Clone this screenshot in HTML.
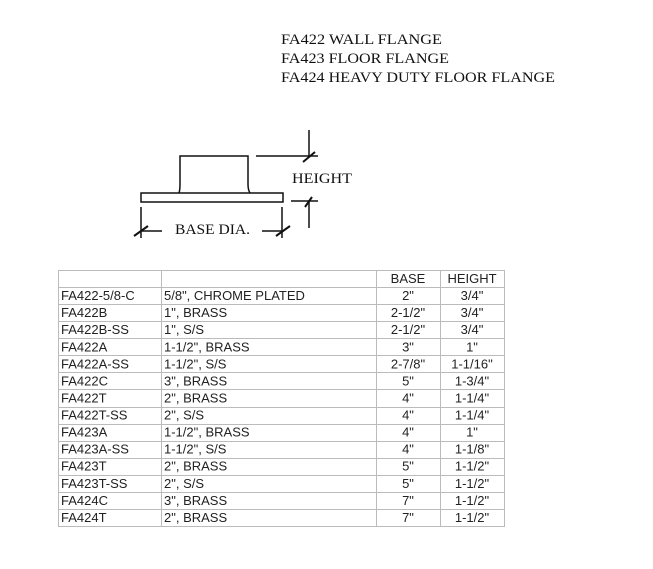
<!DOCTYPE html>
<html><head><style>body{margin:0;background:#fff}svg{display:block}</style></head>
<body>
<svg width="653" height="569" xmlns="http://www.w3.org/2000/svg">
<rect width="653" height="569" fill="#fff"/>
<g font-family="Liberation Serif, serif" font-size="15" fill="#111">
<text x="281" y="44" textLength="161" lengthAdjust="spacingAndGlyphs">FA422 WALL FLANGE</text>
<text x="281" y="63" textLength="168" lengthAdjust="spacingAndGlyphs">FA423 FLOOR FLANGE</text>
<text x="281" y="82" textLength="274" lengthAdjust="spacingAndGlyphs">FA424 HEAVY DUTY FLOOR FLANGE</text>
<text x="292" y="183" textLength="60" lengthAdjust="spacingAndGlyphs">HEIGHT</text>
<text x="175" y="234" textLength="75" lengthAdjust="spacingAndGlyphs">BASE DIA.</text>
</g>
<g stroke="#111" stroke-width="1.5" fill="none">
<path d="M179 193 Q180 190 180 184 L180 156 L248 156 L248 184 Q248 190 250 193"/>
<rect x="141" y="193" width="142" height="9"/>
<line x1="256" y1="156" x2="318" y2="156"/>
<line x1="309" y1="130" x2="309" y2="157"/>
<line x1="303" y1="162" x2="315" y2="152" stroke-width="2"/>
<line x1="291" y1="201" x2="318" y2="201"/>
<line x1="309" y1="200" x2="309" y2="228"/>
<line x1="305" y1="207" x2="312" y2="197" stroke-width="2"/>
<line x1="141" y1="207" x2="141" y2="238"/>
<line x1="282" y1="207" x2="282" y2="238"/>
<line x1="141" y1="231" x2="162" y2="231"/>
<line x1="262" y1="231" x2="282" y2="231"/>
<line x1="134" y1="236" x2="148" y2="226" stroke-width="2"/>
<line x1="276" y1="236" x2="290" y2="226" stroke-width="2"/>
</g>
<g stroke="#bbb" stroke-width="1">
<line x1="58.5" y1="270" x2="58.5" y2="526"/>
<line x1="161.5" y1="270" x2="161.5" y2="526"/>
<line x1="376.5" y1="270" x2="376.5" y2="526"/>
<line x1="440.5" y1="270" x2="440.5" y2="526"/>
<line x1="504.5" y1="270" x2="504.5" y2="526"/>
</g>
<g id="rows" stroke="#bbb" stroke-width="1"></g>
<g font-family="Liberation Sans, sans-serif" font-size="13" fill="#222" id="txt"></g>
<script>
var rows=[["","","BASE","HEIGHT"],["FA422-5/8-C","5/8\", CHROME PLATED","2\"","3/4\""],["FA422B","1\", BRASS","2-1/2\"","3/4\""],["FA422B-SS","1\", S/S","2-1/2\"","3/4\""],["FA422A","1-1/2\", BRASS","3\"","1\""],["FA422A-SS","1-1/2\", S/S","2-7/8\"","1-1/16\""],["FA422C","3\", BRASS","5\"","1-3/4\""],["FA422T","2\", BRASS","4\"","1-1/4\""],["FA422T-SS","2\", S/S","4\"","1-1/4\""],["FA423A","1-1/2\", BRASS","4\"","1\""],["FA423A-SS","1-1/2\", S/S","4\"","1-1/8\""],["FA423T","2\", BRASS","5\"","1-1/2\""],["FA423T-SS","2\", S/S","5\"","1-1/2\""],["FA424C","3\", BRASS","7\"","1-1/2\""],["FA424T","2\", BRASS","7\"","1-1/2\""]];
var ns="http://www.w3.org/2000/svg",g=document.getElementById("rows"),t=document.getElementById("txt"),h=256/15;
for(var i=0;i<=15;i++){var y=Math.round(270+i*h)+0.5;var l=document.createElementNS(ns,"line");l.setAttribute("x1",58);l.setAttribute("x2",505);l.setAttribute("y1",y);l.setAttribute("y2",y);g.appendChild(l);}
rows.forEach(function(r,i){var y=270+i*h+13;[[61,"start"],[164,"start"],[408,"middle"],[472,"middle"]].forEach(function(c,j){if(!r[j])return;var e=document.createElementNS(ns,"text");e.setAttribute("x",c[0]);e.setAttribute("y",y);e.setAttribute("text-anchor",c[1]);e.textContent=r[j];t.appendChild(e);});});
</script>
</svg>
</body></html>
